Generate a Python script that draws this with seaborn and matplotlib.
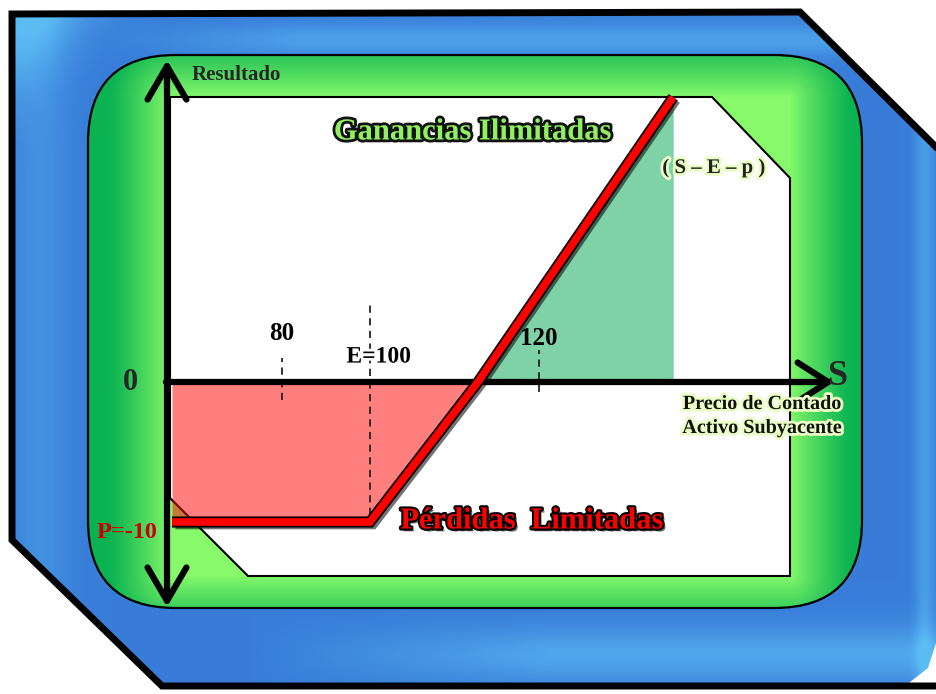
import numpy as np
import matplotlib
matplotlib.use("Agg")
import matplotlib.pyplot as plt
import matplotlib.patheffects as pe
import matplotlib.transforms as mtransforms
from matplotlib.patches import Polygon, FancyBboxPatch
import seaborn as sns

# Long call: result at expiry as a function of the spot price S
spot = [55, 100, 110, 142]      # start, strike E, break-even, end of drawn line
payoff = [-10, -10, 0, 32]      # result at each spot price
tick_values = [80, 100, 120]
tick_labels = ["80", "E=100", "120"]

sns.set_style("white")
plt.rcParams["font.family"] = ["Liberation Serif", "DejaVu Serif"]
plt.rcParams["font.weight"] = "bold"

W, H = 937, 694
fig = plt.figure(figsize=(W / 100, H / 100), dpi=100)

# ---------- decorative background, pixel coordinates ----------
bg = fig.add_axes([0, 0, 1, 1], zorder=0)
bg.set_xlim(0, W)
bg.set_ylim(H, 0)
bg.set_axis_off()

yy, xx = np.mgrid[0:H, 0:W] + 0.5

# blue outer plate
base = np.array([0.22, 0.49, 0.85])
light = np.array([0.36, 0.74, 0.96])
t = (0.55 * np.exp(-((yy - 40) / 16) ** 2) * np.clip((xx - 100) / 200, 0, 1)
     + 0.65 * np.exp(-((yy - 655) / 28) ** 2) * np.clip((xx - 250) / 300, 0, 1)
     + 0.30 * np.exp(-((xx - 40) / 30) ** 2)
     + 0.5 * np.exp(-((xx - 925) / 10) ** 2)
     + 0.8 * np.exp(-((xx + yy - 40) / 70) ** 2) * (xx + yy < 200))
t = np.clip(t, 0, 1)
blue = base[None, None, :] * (1 - t[..., None]) + light[None, None, :] * t[..., None]
plate_pts = [(12, 14), (800, 12), (937, 148), (937, 640), (928, 668), (905, 686),
             (162, 686), (12, 540)]
plate = Polygon(plate_pts, closed=True, facecolor="none", edgecolor="none")
bg.add_patch(plate)
im = bg.imshow(blue, extent=(0, W, H, 0), zorder=1, interpolation="bilinear")
im.set_clip_path(plate)
bg.plot([937, 800, 12, 12, 162, 937], [148, 12, 14, 540, 686, 686],
        color="black", lw=5, solid_joinstyle="miter", zorder=2)

# green rounded frame with a bevel-like gradient
inner = (170, 790, 97, 576)
dx = np.maximum.reduce([inner[0] - xx, np.zeros_like(xx), xx - inner[1]])
dy = np.maximum.reduce([inner[2] - yy, np.zeros_like(yy), yy - inner[3]])
d = np.clip(np.hypot(dx, dy) / 60, 0, 1) ** 0.85
g_light = np.array([0.53, 0.98, 0.42])
g_dark = np.array([0.04, 0.70, 0.32])
green = g_light[None, None, :] * (1 - d[..., None]) + g_dark[None, None, :] * d[..., None]
frame = FancyBboxPatch((88, 55), 774, 553, boxstyle="round,pad=0,rounding_size=88",
                       facecolor="none", edgecolor="black", lw=1.6, zorder=4)
bg.add_patch(frame)
gim = bg.imshow(green, extent=(0, W, H, 0), zorder=3, interpolation="bilinear")
gim.set_clip_path(frame)

# white plotting panel with chamfered corners
panel = Polygon([(170, 97), (712, 97), (790, 178), (790, 576), (248, 576), (170, 498)],
                closed=True, facecolor="white", edgecolor="black", lw=1.5, zorder=5)
bg.add_patch(panel)

# ---------- chart axes ----------
ax = fig.add_axes([0, 0, 1, 1], zorder=2)
ax.patch.set_alpha(0)

# piecewise-linear scales so the schematic keeps its proportions
sx = np.array([-1000.0, 80, 100, 110, 120, 1000])
px = np.array([282 - 1080 * 4.4, 282, 370, 478, 539, 539 + 880 * 6.1])
sy = np.array([-1000.0, -10, 0, 1000])
py = np.array([-522 - 990 * 14, -522, -382, -382 + 1000 * 8.9])


def fwd_x(v):
    return np.interp(np.asarray(v, dtype=float), sx, px)


def inv_x(v):
    return np.interp(np.asarray(v, dtype=float), px, sx)


def fwd_y(v):
    return np.interp(np.asarray(v, dtype=float), sy, py)


def inv_y(v):
    return np.interp(np.asarray(v, dtype=float), py, sy)


pix = bg.transData
blend_x = mtransforms.blended_transform_factory(pix, ax.transData)

# loss and profit areas
loss_mask = [p <= 0 for p in payoff]
gain_mask = [p >= 0 for p in payoff]
ax.fill_between(spot, payoff, 0, where=loss_mask, color="#ff0000", alpha=0.5, lw=0, zorder=1)
ax.fill_between(spot, payoff, 0, where=gain_mask, color="#00a550", alpha=0.5, lw=0, zorder=1)

# dashed reference marks
ax.vlines(80, -1.3, 2.7, colors="#222222", lw=1.3, linestyles=(0, (4, 3)), zorder=2)
ax.vlines(100, -9.5, 8.6, colors="#222222", lw=1.3, linestyles=(0, (4, 3)), zorder=2)
ax.vlines(120, -0.7, 3.6, colors="#222222", lw=1.3, linestyles=(0, (4, 3)), zorder=2)

# axes arrows
ax.annotate("", xy=(834, 382), xytext=(166, 382), xycoords=pix, textcoords=pix,
            arrowprops=dict(arrowstyle="->,head_length=1.1,head_width=0.7", lw=4.5,
                            color="black", mutation_scale=20, shrinkA=0, shrinkB=0),
            zorder=3)
ax.annotate("", xy=(167, 60), xytext=(167, 607), xycoords=pix, textcoords=pix,
            arrowprops=dict(arrowstyle="<->,head_length=1.2,head_width=0.7", lw=4.5,
                            color="black", mutation_scale=20, shrinkA=0, shrinkB=0),
            zorder=3)

# payoff line
sns.lineplot(x=spot, y=payoff, ax=ax, sort=False, color="#ff0000", linewidth=5.5,
             solid_joinstyle="miter", solid_capstyle="butt", zorder=4,
             path_effects=[pe.SimpleLineShadow(offset=(2.5, -2.5), shadow_color="black",
                                               alpha=0.55, rho=0.0),
                           pe.Stroke(linewidth=8, foreground="black"), pe.Normal()])

ax.set_xscale("function", functions=(fwd_x, inv_x))
ax.set_yscale("function", functions=(fwd_y, inv_y))
ax.set_xlim(float(inv_x(0)), float(inv_x(W)))
ax.set_ylim(float(inv_y(-H)), float(inv_y(0)))
ax.set_axis_off()

# tick labels along S
ax.text(tick_values[0], 5.5, tick_labels[0], ha="center", va="center", fontsize=18,
        color="black", zorder=5)
ax.text(tick_values[1] + 0.8, 2.8, tick_labels[1], ha="center", va="center", fontsize=17,
        color="black", zorder=5,
        path_effects=[pe.withStroke(linewidth=4, foreground="white")])
ax.text(tick_values[2], 4.9, tick_labels[2], ha="center", va="center", fontsize=18,
        color="black", zorder=5)

# result axis labels
ax.text(130, 0, "0", transform=blend_x, ha="center", va="center", fontsize=22, zorder=5)
ax.text(127, -10, "P=-10", transform=blend_x, ha="center", va="top", fontsize=17.5,
        color="#cc0000", zorder=5)

glow = [pe.withStroke(linewidth=4, foreground="#eaffc4")]
ax.text(192, 75, "Resultado", transform=pix, ha="left", va="center", fontsize=15, zorder=5)
ax.text(473, 132, "Ganancias Ilimitadas", transform=pix, ha="center", va="center",
        fontsize=22, color="#8ff060", zorder=5,
        path_effects=[pe.withStroke(linewidth=4, foreground="#111111")])
ax.text(714, 168, "( S – E – p )", transform=pix, ha="center", va="center", fontsize=15,
        color="#222222", zorder=5, path_effects=glow)
ax.text(837, 376, "S", transform=pix, ha="center", va="center", fontsize=26, zorder=5)
ax.text(762, 404, "Precio de Contado", transform=pix, ha="center", va="center",
        fontsize=14.5, color="#111111", zorder=5, path_effects=glow)
ax.text(762, 428, "Activo Subyacente", transform=pix, ha="center", va="center",
        fontsize=14.5, color="#111111", zorder=5, path_effects=glow)
ax.text(532, 521, "Pérdidas  Limitadas", transform=pix, ha="center", va="center",
        fontsize=22, color="#ff0000", zorder=5,
        path_effects=[pe.withSimplePatchShadow(offset=(2, -2), shadow_rgbFace="black", alpha=0.6),
                      pe.withStroke(linewidth=3, foreground="black")])

fig.savefig("out.png", dpi=100)
